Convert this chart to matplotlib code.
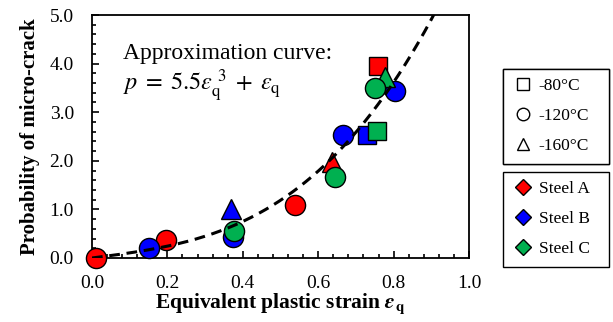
import numpy as np
import matplotlib
matplotlib.use("Agg")
import matplotlib.pyplot as plt
from matplotlib.lines import Line2D
from matplotlib.ticker import MultipleLocator, FormatStrFormatter

plt.rcParams['font.family'] = ['Liberation Serif', 'DejaVu Serif']
plt.rcParams['mathtext.fontset'] = 'stix'

# Data: (steel, temperature) -> strain, probability
steels = ['Steel A', 'Steel B', 'Steel C']
temps = ['-80°C', '-120°C', '-160°C']
colors = {'Steel A': '#FF0000', 'Steel B': '#0000FF', 'Steel C': '#00B050'}
markers = {'-80°C': 's', '-120°C': 'o', '-160°C': '^'}

a_80_x = [0.758]; a_80_y = [3.96]
a_120_x = [0.01, 0.196, 0.538]; a_120_y = [0.0, 0.37, 1.10]
a_160_x = [0.636]; a_160_y = [1.98]
b_80_x = [0.730]; b_80_y = [2.53]
b_120_x = [0.152, 0.375, 0.667, 0.804]; b_120_y = [0.20, 0.44, 2.53, 3.44]
b_160_x = [0.370]; b_160_y = [1.01]
c_80_x = [0.755]; c_80_y = [2.62]
c_160_x = [0.777]; c_160_y = [3.72]
c_120_x = [0.377, 0.645, 0.750]; c_120_y = [0.56, 1.67, 3.49]

series = [
    ('Steel A', '-80°C', a_80_x, a_80_y),
    ('Steel A', '-120°C', a_120_x, a_120_y),
    ('Steel A', '-160°C', a_160_x, a_160_y),
    ('Steel B', '-80°C', b_80_x, b_80_y),
    ('Steel B', '-120°C', b_120_x, b_120_y),
    ('Steel B', '-160°C', b_160_x, b_160_y),
    ('Steel C', '-80°C', c_80_x, c_80_y),
    ('Steel C', '-160°C', c_160_x, c_160_y),
    ('Steel C', '-120°C', c_120_x, c_120_y),
]

coef_a = 5.5
coef_b = 1.0

fig = plt.figure(figsize=(6.13, 3.22), dpi=100)
ax = fig.add_axes([92/613, 1-258/322, 377/613, 243/322])

msize = {'s': 13, 'o': 14.5, '^': 14}
for steel, temp, xs, ys in series:
    m = markers[temp]
    ax.plot(xs, ys, linestyle='none', marker=m, markersize=msize[m],
            markerfacecolor=colors[steel], markeredgecolor='black',
            markeredgewidth=1.0, clip_on=False, zorder=3)

xc = np.linspace(0, 1.0, 400)
yc = coef_a * xc**3 + coef_b * xc
ax.plot(xc, yc, color='black', linestyle=(0, (3.5, 2.2)), linewidth=2.2, zorder=4)

ax.set_xlim(0, 1.0)
ax.set_ylim(0, 5.0)
ax.xaxis.set_major_locator(MultipleLocator(0.2))
ax.xaxis.set_minor_locator(MultipleLocator(0.04))
ax.yaxis.set_major_locator(MultipleLocator(1.0))
ax.yaxis.set_minor_locator(MultipleLocator(0.2))
ax.xaxis.set_major_formatter(FormatStrFormatter('%.1f'))
ax.yaxis.set_major_formatter(FormatStrFormatter('%.1f'))
ax.tick_params(which='both', direction='in', top=False, right=False, labelsize=14, width=1.2)
ax.tick_params(which='major', length=5)
ax.tick_params(which='minor', length=3)
ax.tick_params(axis='x', which='major', pad=12)
ax.tick_params(axis='y', which='major', pad=13)
for s in ax.spines.values():
    s.set_linewidth(1.3)

ax.set_xlabel(r'Equivalent plastic strain $\mathbfit{\varepsilon}_{\mathbf{q}}$',
              fontsize=15.5, fontweight='bold', labelpad=0)
ax.set_ylabel('Probability of micro-crack', fontsize=15, fontweight='bold', labelpad=7)

ax.text(0.082, 0.885, 'Approximation curve:', transform=ax.transAxes,
        fontsize=17, va='top', ha='left')
ax.text(0.082, 0.785, r'$p\;=\;5.5\varepsilon_{\mathrm{q}}^{\ 3}\;+\;\varepsilon_{\mathrm{q}}$',
        transform=ax.transAxes, fontsize=17.5, va='top', ha='left')

h1 = [Line2D([], [], linestyle='none', marker=markers[t], markersize=9,
             markerfacecolor='white', markeredgecolor='black', markeredgewidth=1.0)
      for t in temps]
h2 = [Line2D([], [], linestyle='none', marker='D', markersize=8,
             markerfacecolor=colors[s], markeredgecolor='black', markeredgewidth=1.0)
      for s in steels]

legkw = dict(loc='upper left', mode='expand', fontsize=12.5, frameon=True, fancybox=False,
             edgecolor='black', framealpha=1, borderpad=0.55, labelspacing=0.8,
             handletextpad=0.3, handlelength=1.2, borderaxespad=0)
leg1 = fig.legend(h1, temps, bbox_to_anchor=(503/613, 1-69/322, 106/613, 0.001), **legkw)
leg1.get_frame().set_linewidth(1.0)
leg2 = fig.legend(h2, steels, bbox_to_anchor=(503/613, 1-172/322, 106/613, 0.001), **legkw)
leg2.get_frame().set_linewidth(1.0)
fig.add_artist(leg1)

fig.savefig('out.png', dpi=100)
